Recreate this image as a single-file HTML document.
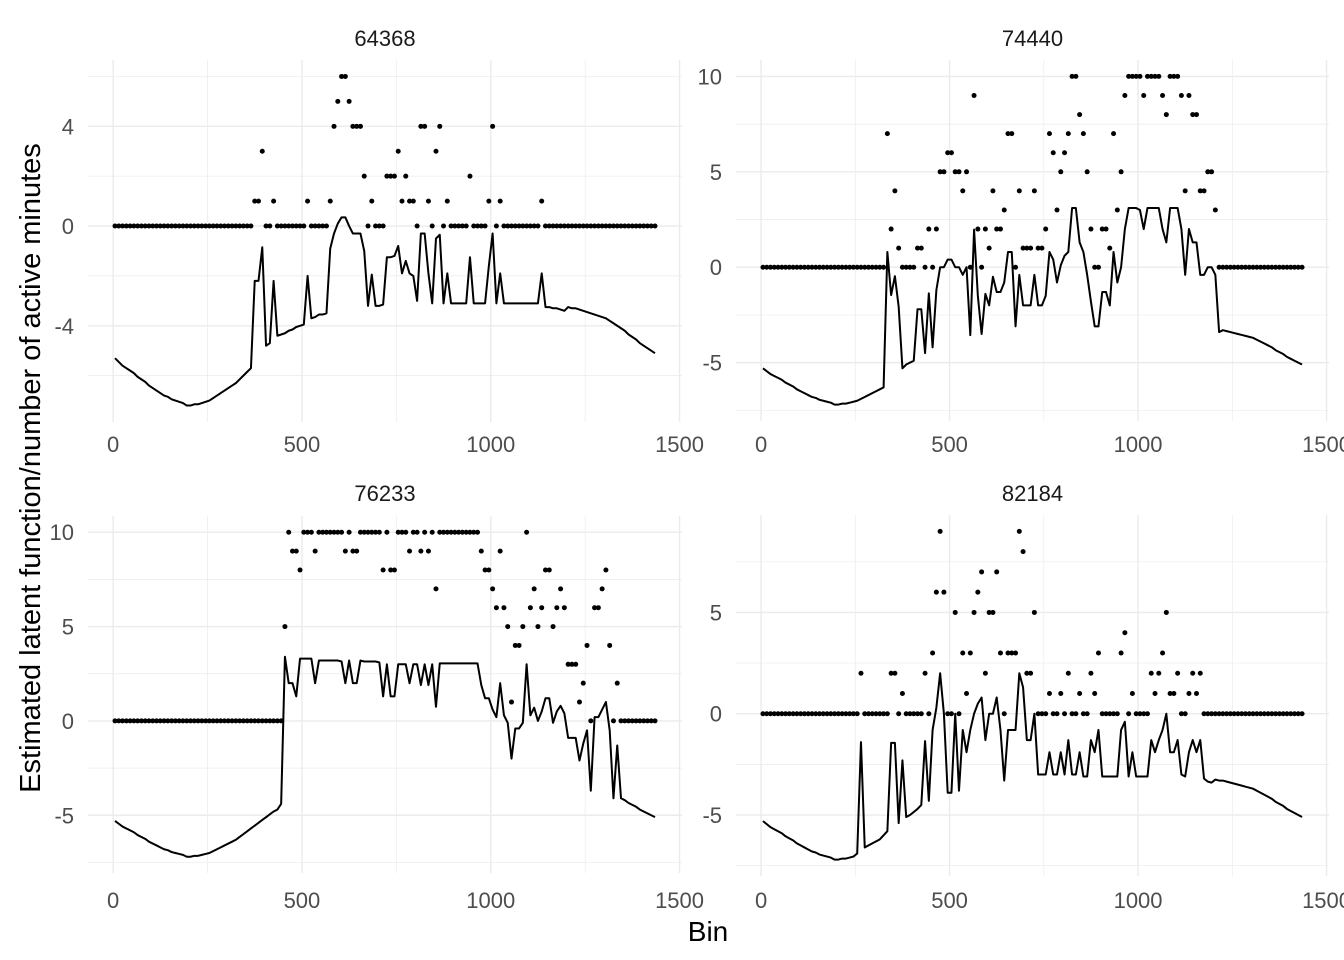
<!DOCTYPE html>
<html><head><meta charset="utf-8"><style>
html,body{margin:0;padding:0;background:#fff;}
svg{display:block;font-family:"Liberation Sans",Arial,sans-serif;}
</style></head><body>
<svg id="chart" width="1344" height="960" viewBox="0 0 1344 960" xmlns="http://www.w3.org/2000/svg">
<text x="708" y="941" font-size="28" text-anchor="middle" fill="#000">Bin</text>
<text x="0" y="0" transform="translate(40,468) rotate(-90)" font-size="29" text-anchor="middle" fill="#000">Estimated latent function/number of active minutes</text>
</svg>
<script>
// shared smooth baseline of the latent function, bins 5,15,...,1435
const baseline = [
-5.3,-5.45,-5.6,-5.7,-5.8,-5.9,-6.05,-6.15,-6.25,-6.4,-6.5,-6.6,-6.7,-6.8,-6.85,-6.95,-7.0,-7.05,-7.1,-7.2,
-7.2,-7.15,-7.15,-7.1,-7.05,-7.0,-6.9,-6.8,-6.7,-6.6,-6.5,-6.4,-6.3,-6.15,-6.0,-5.85,-5.7,-5.55,-5.4,-5.25,
-5.1,-4.95,-4.8,-4.7,-4.55,-4.45,-4.35,-4.25,-4.15,-4.05,-3.95,-3.9,-3.8,-3.75,-3.7,-3.6,-3.55,-3.5,-3.45,-3.4,
-3.4,-3.35,-3.35,-3.3,-3.3,-3.25,-3.25,-3.2,-3.2,-3.2,-3.15,-3.15,-3.15,-3.1,-3.1,-3.1,-3.1,-3.1,-3.1,-3.1,
-3.1,-3.1,-3.1,-3.1,-3.1,-3.1,-3.1,-3.1,-3.1,-3.1,-3.1,-3.1,-3.1,-3.1,-3.1,-3.1,-3.1,-3.1,-3.1,-3.1,
-3.1,-3.1,-3.1,-3.1,-3.1,-3.1,-3.1,-3.1,-3.1,-3.1,-3.15,-3.15,-3.2,-3.2,-3.25,-3.25,-3.3,-3.3,-3.35,-3.4,
-3.25,-3.3,-3.3,-3.35,-3.4,-3.45,-3.5,-3.55,-3.6,-3.65,-3.7,-3.8,-3.9,-4.0,-4.1,-4.2,-4.35,-4.45,-4.55,-4.7,-4.8,-4.9,-5.0,-5.1];
const binStart = 5, binStep = 10, nBins = 144;

// Panel 64368
const title1 = "64368";
const counts1Start = 37;
const counts1 = [1,1,3,0,0,1,0,0,0,0,0,0,0,0, 1,0,0,0,0,0, 1,4,5,6,6,5,4,4,4,2,
 0,1,0,0,0,2,2,2,3,1,2,1,1,0, 4,4,1,0,3,4,0,1, 0,0,0,0,0,2,0,0,0,0, 1,4,0,1, 0,0,0,0,0,0,0,0,0,0,1];
const latent1Start = 37;
const latent1 = [-2.2,-2.2,-0.85,-4.8,-4.7,-2.2,-4.4,-4.35,-4.3,-4.2,-4.15,-4.05,-4.0,-3.95,
 -2.0,-3.7,-3.65,-3.55,-3.55,-3.5, -0.9,-0.3,0.1,0.35,0.35,0.0,-0.3,-0.3,-0.3,-1.0,
 -3.2,-1.95,-3.2,-3.2,-3.15,-1.25,-1.25,-1.2,-0.8,-1.9,-1.4,-1.9,-2.0,-3.0,
 -0.3,-0.3,-1.9,-3.1,-0.5,-0.35,-3.1,-1.9, -3.1,-3.1,-3.1,-3.1,-3.1,-1.25,-3.1,-3.1,-3.1,-3.1,
 -1.6,-0.3,-3.1,-1.9, -3.1,-3.1,-3.1,-3.1,-3.1,-3.1,-3.1,-3.1,-3.1,-3.1,-1.9];
const yTicks1 = [-4,0,4];
const yMinor1 = [-6,-2,2,6];
const yDomain1 = [-7.86,6.66];

// Panel 74440
const title2 = "74440";
const counts2Start = 33;
const counts2 = [7,2,4,1,0,0,0,0,1,1,0,2,0,2,5,5,6,6,5,5,4,5,0,9,2,0,2,1,4,2,2,3,7,7,0,4,1,1,1,4,1,1,2,7,6,3,5,6,7,10,10,8,7,5,2,0,0,2,2,1,7,3,5,9,10,10,10,10,9,10,10,10,10,9,8,10,10,10,9,4,9,8,8,4,4,5,5,3];
const latent2Start = 32;
const latent2 = [-6.3,0.8,-1.46,-0.47,-2.07,-5.3,-5.1,-5.0,-4.9,-2.2,-2.2,-4.5,-1.37,-4.2,-1.2,0,0,0.4,0.4,0,0,-0.4,0,
 -3.56,1.97,-1.5,-3.5,-1.4,-2.0,-0.5,-1.3,-1.3,-0.8,0.8,0.8,-3.1,-0.4,-2.0,-2.0,-2.0,-0.4,-2.0,-2.0,-1.5,0.8,0.4,-0.8,0.1,0.6,0.8,
 3.1,3.1,1.3,0.8,-0.4,-1.8,-3.1,-3.1,-1.3,-1.3,-2.0,0.8,-0.8,0.0,2.0,3.1,3.1,3.1,3.0,2.0,3.1,3.1,3.1,3.1,2.0,1.3,3.1,3.1,3.1,2.0,-0.4,2.0,1.3,1.3,-0.4,-0.4,0,0,-0.4,-3.4];
const yTicks2 = [-5,0,5,10];
const yMinor2 = [-7.5,-2.5,2.5,7.5];
const yDomain2 = [-8.06,10.86];

// Panel 76233
const title3 = "76233";
const counts3Start = 45;
const counts3 = [5,10,9,9,8,10,10,10,9,10,10,10,10,10,10,10,9,10,9,9,10,10,10,10,10,10,8,10,8,8,10,10,10,9,10,10,9,10,9,10,7,
 10,10,10,10,10,10,10,10,10,10,10,9,8,8,7,6,9,6,5,1,4,4,5,10,6,7,5,6,8,8,5,6,7,6,3,3,3,1,2,4,0,6,6,7,8,4,0,2];
const latent3Start = 44;
const latent3 = [-4.4,3.4,2.0,2.0,1.3,3.3,3.3,3.3,3.3,2.0,3.2,3.2,3.2,3.2,3.2,3.2,3.15,2.0,3.2,2.0,2.0,3.2,3.15,3.15,3.15,3.15,3.1,
 1.3,3.0,1.3,1.3,3.0,3.0,3.0,2.0,3.0,3.0,1.9,3.0,1.9,3.0,0.75,
 3.05,3.05,3.05,3.05,3.05,3.05,3.05,3.05,3.05,3.05,3.05,1.9,1.2,1.2,0.6,0.2,2.0,0.3,-0.1,-2.0,-0.4,-0.4,-0.1,3.0,0.3,0.7,0,0.5,1.2,1.2,-0.1,0.5,0.8,0.4,
 -0.9,-0.9,-0.9,-2.1,-1.2,-0.5,-3.7,0.2,0.2,0.6,1.0,-0.5,-4.1,-1.3,-4.1,-4.2];
const yTicks3 = [-5,0,5,10];
const yMinor3 = [-7.5,-2.5,2.5,7.5];
const yDomain3 = [-8.06,10.86];

// Panel 82184
const title4 = "82184";
const counts4Start = 26;
const counts4 = [2,0,0,0,0,0,0,0,2,2,0,1,0,0,0,0,0,2,0,3,6,9,6,0,0,5,0,3,1,3,5,6,7,2,5,5,7,3,0,3,3,3,9,8,2,2,5,0,0,0,1,0,0,1,0,2,0,0,1,0,0,2,1,3,0,0,0,0,0,3,4,0,1,0,0,0,0,2,1,2,3,5,1,1,2,0,0,1,2,1,2];
const latent4Start = 25;
const latent4 = [-6.9,-1.4,-6.6,-6.5,-6.4,-6.3,-6.2,-6.0,-5.8,-1.44,-1.44,-5.4,-2.3,-5.1,-5.0,-4.85,-4.7,-4.5,-1.35,-4.3,-0.8,0.3,2.0,0.0,-3.9,-3.9,0,-3.8,-0.8,-1.9,-0.8,0.0,0.5,0.8,-1.3,0.0,0.0,0.8,-0.8,-3.3,-0.8,-0.8,-0.8,2.0,1.3,-1.3,-1.3,0.0,
 -3.0,-3.0,-3.0,-1.9,-3.0,-3.0,-1.9,-3.0,-1.3,-3.0,-3.0,-1.9,-3.1,-3.1,-1.3,-1.9,-0.8,-3.1,-3.1,-3.1,-3.1,-3.1,-0.8,-0.4,-3.1,-1.9,-3.1,-3.1,-3.1,-3.1,-1.3,-1.9,-1.3,-0.8,0.0,-1.9,-1.9,-1.3,-3.0,-3.1,-1.9,-1.3,-1.9,-1.3,-3.2];
const yTicks4 = [-5,0,5];
const yMinor4 = [-7.5,-2.5,2.5,7.5];
const yDomain4 = [-8.01,9.81];

const xTicks = [0,500,1000,1500];
const xMinor = [250,750,1250];
const xDomain = [-66.5,1506.5];

const svg = document.getElementById('chart');
const NS = 'http://www.w3.org/2000/svg';
function mk(tag, attrs){ const e=document.createElementNS(NS,tag); for(const k in attrs) e.setAttribute(k,attrs[k]); return e; }

const panels = [
 {title:title1,cS:counts1Start,c:counts1,lS:latent1Start,l:latent1,yt:yTicks1,ym:yMinor1,yd:yDomain1,box:[88,60,682,422],tb:46,xb:452},
 {title:title2,cS:counts2Start,c:counts2,lS:latent2Start,l:latent2,yt:yTicks2,ym:yMinor2,yd:yDomain2,box:[736,60,1329,421],tb:46,xb:452},
 {title:title3,cS:counts3Start,c:counts3,lS:latent3Start,l:latent3,yt:yTicks3,ym:yMinor3,yd:yDomain3,box:[88,516,682,873],tb:501,xb:908},
 {title:title4,cS:counts4Start,c:counts4,lS:latent4Start,l:latent4,yt:yTicks4,ym:yMinor4,yd:yDomain4,box:[736,515,1329,876],tb:501,xb:908}
];

panels.forEach((p,pi)=>{
  const [L,T,R,B]=p.box;
  const xs = v => L + (v - xDomain[0])/(xDomain[1]-xDomain[0])*(R-L);
  const ys = v => B - (v - p.yd[0])/(p.yd[1]-p.yd[0])*(B-T);
  const g = mk('g',{});
  
  
  svg.appendChild(g);
  p.ym.forEach(v=>{ const ln=mk('line',{x1:L,x2:R,y1:ys(v),y2:ys(v),stroke:'#ebebeb','stroke-width':0.7});
      g.appendChild(ln); });
  xMinor.forEach(v=>{ const ln=mk('line',{x1:xs(v),x2:xs(v),y1:T,y2:B,stroke:'#ebebeb','stroke-width':0.7});
      g.appendChild(ln); });
  p.yt.forEach(v=>{ const ln=mk('line',{x1:L,x2:R,y1:ys(v),y2:ys(v),stroke:'#ebebeb','stroke-width':1.4});
      g.appendChild(ln);
    const t=mk('text',{x:L-14,y:ys(v)+8,'font-size':22,'text-anchor':'end',fill:'#4d4d4d'}); t.textContent=v;
      g.appendChild(t); });
  xTicks.forEach(v=>{ const ln=mk('line',{x1:xs(v),x2:xs(v),y1:T,y2:B,stroke:'#ebebeb','stroke-width':1.4});
      g.appendChild(ln);
    const t=mk('text',{x:xs(v),y:p.xb,'font-size':22,'text-anchor':'middle',fill:'#4d4d4d'}); t.textContent=v;
      g.appendChild(t); });
  const tt=mk('text',{x:(L+R)/2,y:p.tb,'font-size':22,'text-anchor':'middle',fill:'#1a1a1a'}); tt.textContent=p.title;
    g.appendChild(tt);
  let d='';
  for(let i=0;i<nBins;i++){
    const li=i-p.lS;
    const v=(li>=0&&li<p.l.length)?p.l[li]:baseline[i];
    d+=(i?'L':'M')+xs(binStart+binStep*i).toFixed(2)+','+ys(v).toFixed(2);
  }
  const path=mk('path',{d:d,fill:'none',stroke:'#000','stroke-width':2,'stroke-linejoin':'round'});
  
  
  g.appendChild(path);
  for(let i=0;i<nBins;i++){
    const ci=i-p.cS;
    const v=(ci>=0&&ci<p.c.length)?p.c[ci]:0;
    const c=mk('circle',{cx:xs(binStart+binStep*i),cy:ys(v),r:2.5,fill:'#000'});
    
    
    g.appendChild(c);
  }
});
</script>
</body></html>
